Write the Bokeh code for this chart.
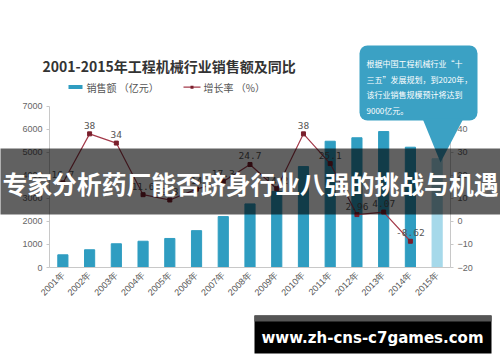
import math
from bokeh.plotting import figure
from bokeh.models import (Range1d, LinearAxis, FixedTicker, Label, BoxAnnotation,
                          PolyAnnotation, ColumnDataSource)
from bokeh.core.properties import value
from bokeh.embed import file_html
from bokeh.resources import INLINE

# ---------------- data ----------------
years = ["2001年", "2002年", "2003年", "2004年", "2005年", "2006年", "2007年", "2008年",
         "2009年", "2010年", "2011年", "2012年", "2013年", "2014年", "2015年"]
sales = [550, 770, 1030, 1140, 1260, 1600, 2210, 2760, 3300, 4380, 5480, 5630, 5900, 5220, 4720]
rates = [16.7, 38, 34, 11.6, 9.3, 14.0, 17.3, 24.7, 14.2, 38, 25.1, 2.96, 4.07, -8.62]
left_ticks = [0, 1000, 2000, 3000, 4000, 5000, 6000, 7000]
right_ticks = [-20, -10, 0, 10, 20, 30, 40, 50]

title_text = "2001-2015年工程机械行业销售额及同比"
legend_sales = "销售额 （亿元）"
legend_rate = "增长率 （%）"
callout_lines = ["根据中国工程机械行业“十", "三五”发展规划，到2020年，",
                 "该行业销售规模预计将达到", "9000亿元。"]
banner_text = "专家分析药厂能否跻身行业八强的挑战与机遇"
watermark_text = "www.zh-cns-c7games.com"

# ---------------- layout constants (pixels) ----------------
W, H = 500, 362
X0, X1 = 49.0, 450.0      # plot area left/right
Y0, Y1 = 267.0, 105.7     # pixel rows of 0 and 7000
n = len(years)
cw = (X1 - X0) / n
ppu_l = (Y0 - Y1) / (left_ticks[-1] - left_ticks[0])
ppu_r = (Y0 - Y1) / (right_ticks[-1] - right_ticks[0])

BAR = "#2f9dc1"
BAR_LIGHT = "#a6d9ea"
LINE = "#a33a4a"
MARK = "#7a1f2c"
CJK = "Noto Sans CJK SC"

x_range = Range1d(-X0 / cw, (W - X0) / cw)
y_range = Range1d(left_ticks[0] - (H - Y0) / ppu_l, left_ticks[0] + Y0 / ppu_l)
pct_range = Range1d(right_ticks[0] - (H - Y0) / ppu_r, right_ticks[0] + Y0 / ppu_r)

p = figure(width=W, height=H, x_range=x_range, y_range=y_range,
           output_backend="svg", toolbar_location=None,
           x_axis_location=None, y_axis_location=None,
           min_border=0, min_border_left=0, min_border_right=0,
           min_border_top=0, min_border_bottom=0)
p.background_fill_color = "white"
p.border_fill_color = "white"
p.outline_line_color = None
p.grid.grid_line_color = None
p.extra_y_ranges = {"pct": pct_range}

xs = [i + 0.5 for i in range(n)]
bar_colors = [BAR] * (n - 1) + [BAR_LIGHT]
src = ColumnDataSource(dict(x=xs, top=sales, color=bar_colors))
p.vbar(x="x", top="top", bottom=0, width=0.38, color="color", source=src)

rsrc = ColumnDataSource(dict(x=xs[:len(rates)], y=rates, t=[f"{v:g}" for v in rates]))
p.line(x="x", y="y", source=rsrc, line_color=LINE, line_width=1.2, y_range_name="pct")
p.scatter(x="x", y="y", source=rsrc, marker="square", size=4, color=MARK, y_range_name="pct")
p.text(x="x", y="y", text="t", source=rsrc, y_range_name="pct", text_align="center",
       text_baseline="bottom", y_offset=-5, text_font=value("DejaVu Sans Mono"),
       text_font_size="9.5px", text_color="#555555")

# ---------------- axes ----------------
def style_axis(ax):
    ax.axis_line_color = "#c8c8c8"
    ax.major_tick_line_color = "#c8c8c8"
    ax.minor_tick_line_color = None
    ax.major_tick_in = 0
    ax.major_tick_out = 3
    ax.major_label_text_font = "Liberation Sans"
    ax.major_label_text_font_size = "9px"
    ax.major_label_text_color = "#666666"

yl = LinearAxis(ticker=FixedTicker(ticks=left_ticks), fixed_location=0,
                bounds=(left_ticks[0], left_ticks[-1]))
style_axis(yl)
yl.major_label_standoff = 4
p.add_layout(yl, "left")

yr = LinearAxis(y_range_name="pct", ticker=FixedTicker(ticks=right_ticks), fixed_location=n,
                bounds=(right_ticks[0], right_ticks[-1]))
style_axis(yr)
yr.major_label_standoff = 4
p.add_layout(yr, "right")

xa = LinearAxis(ticker=FixedTicker(ticks=xs), fixed_location=0, bounds=(0, n),
                major_label_overrides={x: y for x, y in zip(xs, years)})
style_axis(xa)
xa.major_tick_out = 0
xa.major_label_orientation = math.pi / 4
xa.major_label_standoff = 6
xa.major_label_text_color = "#555555"
p.add_layout(xa, "below")

# ---------------- annotations (screen px: x from left, y up from bottom) ----------------
def sy(y):
    return H - y

def box(l, t, r, b, color, alpha=1.0, level="annotation", **kw):
    return BoxAnnotation(left=l, right=r, top=sy(t), bottom=sy(b),
                         left_units="screen", right_units="screen",
                         top_units="screen", bottom_units="screen",
                         fill_color=color, fill_alpha=alpha, line_color=None,
                         level=level, **kw)

def label(x, y, text, **kw):
    return Label(x=x, y=sy(y), x_units="screen", y_units="screen", text=text,
                 text_baseline="middle", **kw)

p.add_layout(label(42, 65, title_text, text_font=CJK, text_font_style="bold",
                   text_font_size="14px", text_color="#333333"))
# legend
p.add_layout(box(68, 84.5, 82, 88.5, BAR))
p.add_layout(label(86, 86.7, legend_sales, text_font=CJK, text_font_size="10px",
                   text_color="#555555"))
p.add_layout(box(183, 86.1, 200, 87.3, LINE))
p.add_layout(box(190, 85.2, 193, 88.2, MARK))
p.add_layout(label(203, 86.7, legend_rate, text_font=CJK, text_font_size="10px",
                   text_color="#555555"))

# callout
p.add_layout(box(359, 45, 477, 120, "#3ba1c4", border_radius=8))
p.add_layout(PolyAnnotation(xs=[422, 463, 440], ys=[sy(118), sy(118), sy(162)],
                            xs_units="screen", ys_units="screen",
                            fill_color="#3ba1c4", fill_alpha=1, line_color=None))
for i, line in enumerate(callout_lines):
    p.add_layout(label(366, 62.7 + i * 15.8, line, text_font=CJK, text_font_size="8px",
                       text_color="white"))

# banner overlay
p.add_layout(box(-5, 148, W + 5, 214, "black", alpha=0.62, level="overlay"))
p.add_layout(label(250, 182, banner_text, text_font=CJK, text_font_style="bold",
                   text_font_size="24.8px", text_color="white", text_align="center",
                   level="overlay"))

# watermark
p.add_layout(box(254, 315, 491, 353, "black", level="overlay"))
p.add_layout(box(254, 315, 491, 321, "#555555", level="overlay"))
p.add_layout(label(372, 337, watermark_text, text_font="DejaVu Sans", text_font_style="bold",
                   text_font_size="15px", text_color="white", text_align="center",
                   level="overlay"))

open("out.html", "w").write(file_html(p, INLINE))
